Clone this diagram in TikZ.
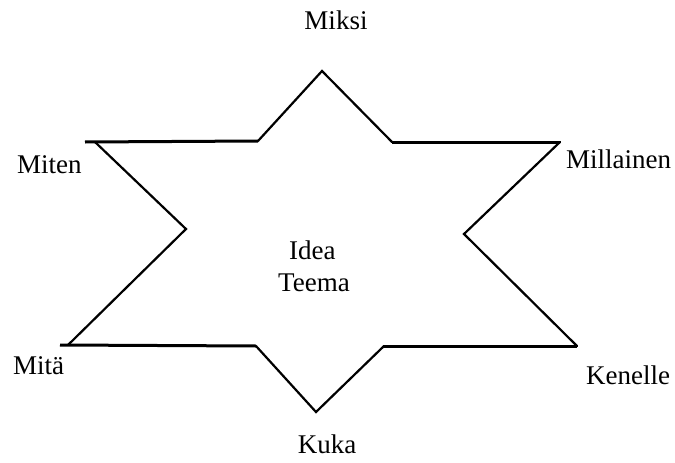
\documentclass[tikz,border=0pt]{standalone}
\usepackage{fontspec}
\setmainfont{Liberation Serif}
\begin{document}
\begin{tikzpicture}[x=1pt,y=-1pt,
  lbl/.style={inner sep=0pt,font=\fontsize{27}{30}\selectfont},
  edge/.style={line width=2.2pt,line cap=round},
  flat/.style={line width=3pt}]
\useasboundingbox (0,0) rectangle (675,463);
% star vertices
\coordinate (top) at (322,71);
\coordinate (tr) at (392,142);
\coordinate (r1) at (560,142);
\coordinate (ri) at (464,234);
\coordinate (r2) at (577,346);
\coordinate (br) at (384,346);
\coordinate (bot) at (316,412);
\coordinate (bl) at (256,346);
\coordinate (l2) at (68,345);
\coordinate (li) at (186,229);
\coordinate (l1) at (95,142);
\coordinate (tl) at (258,141);
\coordinate (l2end) at (60,345);
\coordinate (l1end) at (85,142);
% outline
\draw[edge] (tl) -- (top) -- (tr);
\draw[flat] (tr) -- (r1);
\draw[edge] (r1) -- (ri) -- (r2);
\draw[flat] (r2) -- (br);
\draw[edge] (br) -- (bot) -- (bl);
\draw[flat] (bl) -- (l2end);
\draw[edge] (l2) -- (li) -- (l1);
\draw[flat] (l1end) -- (tl);
% labels
\node[lbl,anchor=base] (miksi) at (336,30) {Miksi};
\node[lbl,anchor=base west] (millainen) at (566,168) {Millainen};
\node[lbl,anchor=base west] (miten) at (17,173) {Miten};
\node[lbl,anchor=base west] (mita) at (13,374) {Mitä};
\node[lbl,anchor=base west] (kenelle) at (586,384) {Kenelle};
\node[lbl,anchor=base] (kuka) at (327,453) {Kuka};
\node[lbl,anchor=base west] (idea) at (289,259) {Idea};
\node[lbl,anchor=base west] (teema) at (278,291) {Teema};
\end{tikzpicture}
\end{document}
